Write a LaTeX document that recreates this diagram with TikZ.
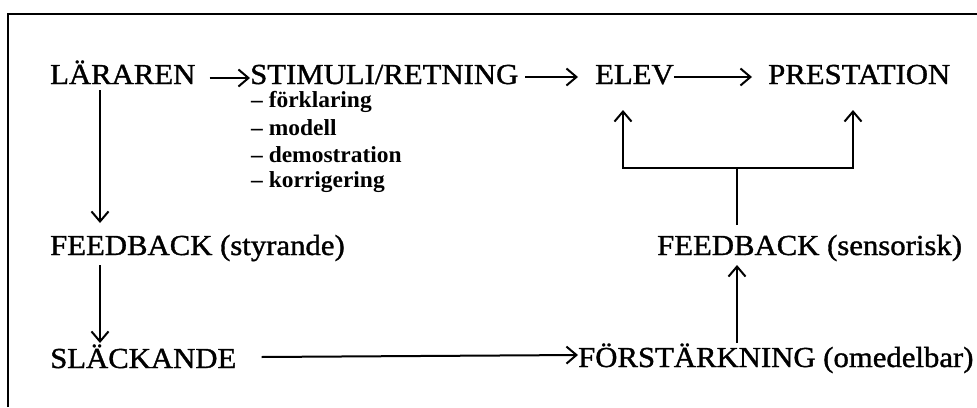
\documentclass[tikz,border=0pt]{standalone}
\usepackage{fontspec}
\newfontfamily\mainf{Liberation Serif}[FakeStretch=1.06,FakeBold=1.2]
\newfontfamily\subf{Liberation Serif}[FakeStretch=1.02]
\usetikzlibrary{arrows.meta}

\begin{document}
\begin{tikzpicture}[x=1pt,y=-1pt,
  lbl/.style={anchor=base west,inner sep=0pt,font=\mainf\fontsize{29}{31}\selectfont},
  item/.style={anchor=base west,inner sep=0pt,font=\subf\bfseries\fontsize{23}{25}\selectfont},
  arr/.style={line width=2pt,-{Straight Barb[length=10pt,width=17pt,line width=2pt]}},
  link/.style={line width=2pt},
  frame/.style={line width=1.6pt}]
  \useasboundingbox (0,0) rectangle (977,407);

  % open frame: top and left edges only
  \draw[frame] (8,407) -- (8,14) -- (977,14);

  % top row
  \node[lbl] (lar)  at (50,84)  {LÄRAREN};
  \node[lbl] (stim) at (250,84) {STIMULI/RETNING};
  \node[lbl] (elev) at (595,84) {ELEV};
  \node[lbl] (pres) at (768,84) {PRESTATION};

  % kinds of stimuli
  \node[item] (i1) at (251,107) {– förklaring};
  \node[item] (i2) at (251,135) {– modell};
  \node[item] (i3) at (251,162) {– demostration};
  \node[item] (i4) at (251,187) {– korrigering};

  % feedback and reinforcement
  \node[lbl] (fbs)   at (50,255)  {FEEDBACK (styrande)};
  \node[lbl] (fbsen) at (657,255) {FEEDBACK (sensorisk)};
  \node[lbl] (slk)   at (50,368)  {SLÄCKANDE};
  \node[lbl] (fst)   at (578,367) {FÖRSTÄRKNING (omedelbar)};

  % horizontal chain
  \draw[arr] ([xshift=14pt,yshift=6pt]lar.base east) -- ([yshift=6pt]stim.base west);
  \draw[arr] ([xshift=7pt,yshift=7pt]stim.base east) -- ([xshift=-17pt,yshift=7pt]elev.base west);
  \draw[arr] ([yshift=7pt]elev.base east) -- ([xshift=-16pt,yshift=7pt]pres.base west);

  % left column
  \draw[arr] ([xshift=50pt,yshift=-6pt]lar.base west) -- ([xshift=50pt,yshift=32pt]fbs.base west);
  \draw[arr] ([xshift=50pt,yshift=-10pt]fbs.base west) -- ([xshift=50pt,yshift=25pt]slk.base west);

  % bottom link
  \draw[arr] ([xshift=25pt,yshift=11pt]slk.base east) -- ([yshift=12pt]fst.base west);

  % right column
  \draw[arr] ([xshift=159pt,yshift=24pt]fst.base west) -- ([xshift=80pt,yshift=-10pt]fbsen.base west);
  \coordinate (jn) at (737,168);
  \draw[link] ([xshift=80pt,yshift=30pt]fbsen.base west) -- (jn);
  \draw[arr] (jn) -| ([xshift=28pt,yshift=-26pt]elev.base west);
  \draw[arr] (jn) -| ([xshift=85pt,yshift=-26pt]pres.base west);
\end{tikzpicture}
\end{document}
